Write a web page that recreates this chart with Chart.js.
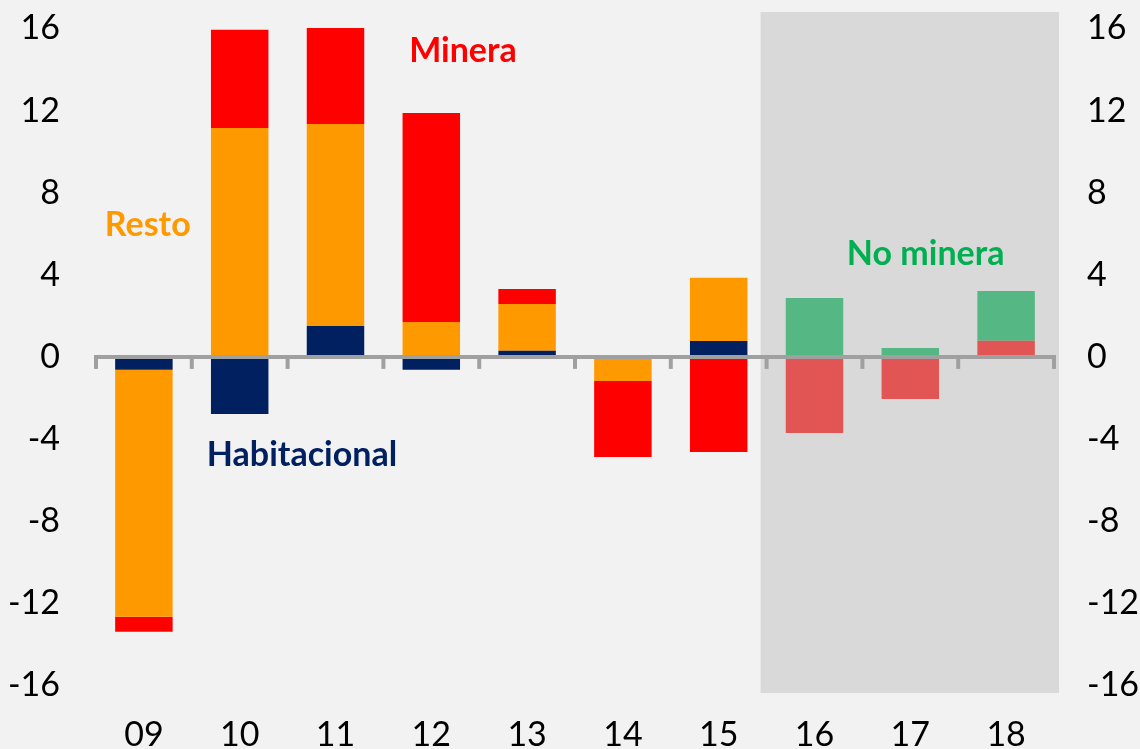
<!DOCTYPE html>
<html>
<head>
<meta charset="utf-8">
<script src="https://cdn.jsdelivr.net/npm/chart.js@4.4.1/dist/chart.umd.min.js"></script>
<style>
  html, body { margin: 0; padding: 0; background: #f2f2f2; }
  #wrap { width: 1140px; height: 749px; position: relative; }
</style>
</head>
<body>
<div id="wrap"><canvas id="chart"></canvas></div>
<script>
// data
const years = ['09', '10', '11', '12', '13', '14', '15', '16', '17', '18'];
const habitacional = [-0.63, -2.78, 1.51, -0.63, 0.30, null, 0.78, null, null, null];
const resto = [-12.03, 11.15, 9.84, 1.70, 2.28, -1.17, 3.07, null, null, null];
const minera = [-0.73, 4.78, 4.67, 10.18, 0.73, -3.70, -4.63, null, null, null];
const mineraProy = [null, null, null, null, null, null, null, -3.70, -2.05, 0.79];
const noMinera = [null, null, null, null, null, null, null, 2.87, 0.44, 2.42];
const yTicks = [-16, -12, -8, -4, 0, 4, 8, 12, 16];

// series labels written inside the plot (position in data units)
const noteTexts = ['Minera', 'Resto', 'Habitacional', 'No minera'];
const noteX = [3.33, 0.04, 1.65, 8.16];
const noteY = [14.9, 6.4, -4.8, 5.0];
const noteColors = ['#ff0000', '#ff9900', '#002060', '#00b050'];

const FONT = 'Lato, "Open Sans", sans-serif';

// grey box behind the projected years
const shadePlugin = {
    id: 'shade',
    beforeDatasetsDraw(chart) {
        const { ctx, chartArea, scales } = chart;
        const x = scales.x;
        const left = (x.getPixelForValue(6) + x.getPixelForValue(7)) / 2 - 6;
        ctx.save();
        ctx.fillStyle = '#d9d9d9';
        ctx.fillRect(left, chartArea.top, chartArea.right + 5 - left, chartArea.bottom - chartArea.top);
        ctx.restore();
    }
};

// zero line with tick marks between categories, plus the text labels
const zeroAxisPlugin = {
    id: 'zeroAxis',
    afterDatasetsDraw(chart) {
        const { ctx, chartArea, scales } = chart;
        const x = scales.x;
        const y0 = scales.y.getPixelForValue(0);
        ctx.save();
        ctx.strokeStyle = '#a0a0a0';
        ctx.lineWidth = 4;
        ctx.beginPath();
        ctx.moveTo(chartArea.left - 2, y0);
        ctx.lineTo(chartArea.right + 2, y0);
        ctx.stroke();
        const step = x.getPixelForValue(1) - x.getPixelForValue(0);
        for (let i = 0; i <= years.length; i++) {
            const px = x.getPixelForValue(0) - step / 2 + i * step;
            ctx.beginPath();
            ctx.moveTo(px, y0);
            ctx.lineTo(px, y0 + 12);
            ctx.stroke();
        }
        ctx.font = 'bold 34px ' + FONT;
        ctx.textAlign = 'center';
        ctx.textBaseline = 'middle';
        noteTexts.forEach((t, i) => {
            ctx.fillStyle = noteColors[i];
            ctx.fillText(t, x.getPixelForValue(noteX[i]), scales.y.getPixelForValue(noteY[i]));
        });
        ctx.restore();
    }
};

function setTicks(scale) {
    scale.ticks = yTicks.map(v => ({ value: v }));
}

function fitY(width) {
    return function (scale) {
        scale.width = width;
        scale.paddingTop = 0;
        scale.paddingBottom = 0;
    };
}

const ctx = document.getElementById('chart').getContext('2d');
// eslint-disable-next-line no-unused-vars
const chart = new Chart(ctx, {
    type: 'bar',
    data: {
        labels: years,
        datasets: [
            { label: 'Habitacional', data: habitacional, backgroundColor: '#002060' },
            { label: 'Resto', data: resto, backgroundColor: '#ff9900' },
            { label: 'Minera', data: minera, backgroundColor: '#ff0000' },
            { label: 'Minera proy', data: mineraProy, backgroundColor: '#e15555' },
            { label: 'No minera', data: noMinera, backgroundColor: '#55b884' }
        ]
    },
    options: {
        responsive: true,
        maintainAspectRatio: false,
        animation: false,
        layout: { padding: { top: 12, left: 0, right: 0, bottom: 0 } },
        datasets: {
            bar: { categoryPercentage: 1, barPercentage: 0.6, borderWidth: 0 }
        },
        plugins: {
            legend: { display: false },
            tooltip: { enabled: false }
        },
        scales: {
            x: {
                stacked: true,
                grid: { display: false, drawTicks: false },
                border: { display: false },
                ticks: { color: '#000', font: { family: FONT, size: 34 }, padding: 22, maxRotation: 0 },
                afterFit(scale) { scale.height = 56; }
            },
            y: {
                stacked: true,
                position: 'left',
                min: -16.37,
                max: 16.8,
                grid: { display: false, drawTicks: false },
                border: { display: false },
                afterBuildTicks: setTicks,
                ticks: { color: '#000', font: { family: FONT, size: 34 }, padding: 36 },
                afterFit: fitY(96)
            },
            y2: {
                position: 'right',
                min: -16.37,
                max: 16.8,
                grid: { display: false, drawTicks: false },
                border: { display: false },
                afterBuildTicks: setTicks,
                ticks: { color: '#000', font: { family: FONT, size: 34 }, padding: 33 },
                afterFit: fitY(86)
            }
        }
    },
    plugins: [shadePlugin, zeroAxisPlugin]
});
</script>
</body>
</html>
